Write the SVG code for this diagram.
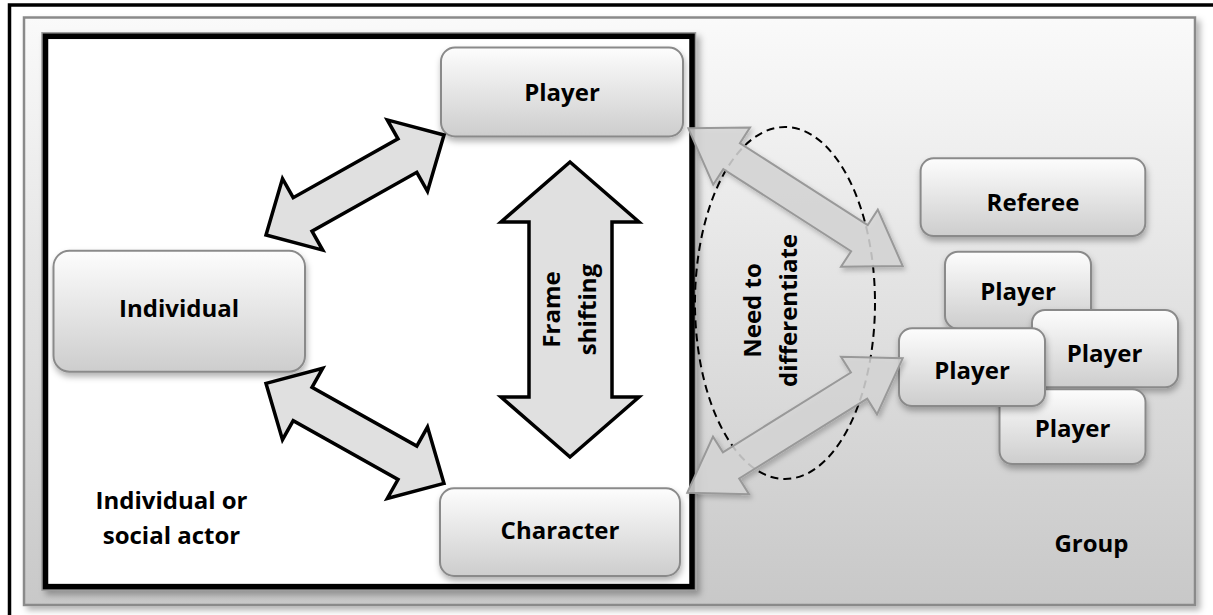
<svg xmlns="http://www.w3.org/2000/svg" width="1213" height="615" viewBox="0 0 1213 615">
<defs>
  <linearGradient id="gGroup" x1="0" y1="0" x2="0" y2="1">
    <stop offset="0" stop-color="#fafafa"/>
    <stop offset="1" stop-color="#c8c8c8"/>
  </linearGradient>
  <linearGradient id="gNode" x1="0" y1="0" x2="0" y2="1">
    <stop offset="0" stop-color="#fdfdfd"/>
    <stop offset="1" stop-color="#cdcdcd"/>
  </linearGradient>
  <filter id="shBig" x="-5%" y="-5%" width="110%" height="110%">
    <feDropShadow dx="4" dy="4" stdDeviation="3" flood-color="#000" flood-opacity="0.3"/>
  </filter>
  <filter id="shNode" x="-10%" y="-10%" width="125%" height="135%">
    <feDropShadow dx="1" dy="4" stdDeviation="3" flood-color="#000" flood-opacity="0.3"/>
  </filter>
  <filter id="shArrow" x="-10%" y="-10%" width="125%" height="130%">
    <feDropShadow dx="2" dy="3" stdDeviation="2.5" flood-color="#000" flood-opacity="0.25"/>
  </filter>
</defs>
<style>
  .node { fill: url(#gNode); stroke: #8a8a8a; stroke-width: 2; filter: url(#shNode); }
  .lbl { font-family: "Open Sans", "Liberation Sans", sans-serif; font-weight: 700; font-size: 24px; fill: #000; text-anchor: middle; }
  .barrow { fill: #e0e0e0; stroke: #000; stroke-width: 3.5; stroke-linejoin: miter; }
  .garrow { fill: #d6d6d6; fill-opacity: 0.85; stroke: #999; stroke-width: 2; stroke-linejoin: miter; filter: url(#shArrow); }
</style>

<rect id="outer-frame" x="9.5" y="5" width="1215" height="620" fill="#fff" stroke="#000" stroke-width="3.5"/>

<g id="group-area">
  <rect x="24" y="17.5" width="1171" height="587.5" fill="url(#gGroup)" stroke="#8a8a8a" stroke-width="2.5" filter="url(#shBig)"/>
  <text class="lbl" x="1091.5" y="551.7">Group</text>
</g>

<g id="individual-area">
  <rect x="45.5" y="36.3" width="646.5" height="550.3" fill="none" stroke="#999" stroke-width="8.5" filter="url(#shBig)"/>
  <rect x="45.5" y="36.3" width="646.5" height="550.3" fill="#fff" stroke="#000" stroke-width="5.5"/>
  <text class="lbl" x="171.5" y="509.3">Individual or</text>
  <text class="lbl" x="171.5" y="544">social actor</text>
</g>

<g id="node-player">
  <rect class="node" x="441" y="47.5" width="242" height="89" rx="14"/>
  <text class="lbl" x="562" y="101">Player</text>
</g>
<g id="node-individual">
  <rect class="node" x="53.5" y="250.7" width="251.5" height="121" rx="16"/>
  <text class="lbl" x="179" y="316.7">Individual</text>
</g>
<g id="node-character">
  <rect class="node" x="440" y="488.3" width="240" height="87.7" rx="14"/>
  <text class="lbl" x="560" y="539.3">Character</text>
</g>

<g id="node-referee">
  <rect class="node" x="920.6" y="158.3" width="224.7" height="77.7" rx="13"/>
  <text class="lbl" x="1033" y="210.7">Referee</text>
</g>
<g id="node-player-back">
  <rect class="node" x="945" y="251.7" width="146" height="77" rx="13"/>
  <text class="lbl" x="1018" y="300">Player</text>
</g>
<g id="node-player-right">
  <rect class="node" x="1032" y="310" width="146" height="77.3" rx="13"/>
  <text class="lbl" x="1104.5" y="361.7">Player</text>
</g>
<g id="node-player-bottom">
  <rect class="node" x="999.5" y="389.3" width="146" height="74.7" rx="13"/>
  <text class="lbl" x="1072.5" y="436.7">Player</text>
</g>
<g id="node-player-front">
  <rect class="node" x="899" y="328.3" width="146" height="77.7" rx="13"/>
  <text class="lbl" x="972" y="379.3">Player</text>
</g>

<g id="connectors">
  <polygon class="barrow" points="444,135 387.3,119.9 398,138.9 293.2,197.7 282.5,178.7 266,235 322.7,250.1 312,231.1 416.8,172.3 427.5,191.3"/>
  <polygon class="barrow" points="444,483.4 387.3,498.5 398,479.5 293.2,420.7 282.5,439.7 266,383.4 322.7,368.3 312,387.3 416.8,446.1 427.5,427.1"/>
  <g id="frame-shifting">
    <polygon class="barrow" points="570,162 639,222 612,222 612,397 639,397 570,457 501,397 529,397 529,222 501,222"/>
    <text class="lbl" transform="translate(560,309.5) rotate(-90)">Frame</text>
    <text class="lbl" transform="translate(596,309.5) rotate(-90)">shifting</text>
  </g>
  <ellipse cx="785" cy="303" rx="90" ry="176" fill="none" stroke="#000" stroke-width="2" stroke-dasharray="8 5"/>
  <polygon class="garrow" points="688.3,128.3 750,127.5 739.9,143.1 867.7,225.2 877.8,209.6 902.7,266 841,266.8 851.1,251.2 723.3,169.1 713.2,184.7"/>
  <polygon class="garrow" points="687.3,492.7 713,436.6 722.9,452.3 850.9,372.5 841,356.8 902.7,358.3 877,414.4 867.2,398.7 739.2,478.5 749,494.2"/>
  <text class="lbl" transform="translate(761,310.5) rotate(-90)">Need to</text>
  <text class="lbl" transform="translate(797,310.5) rotate(-90)">differentiate</text>
</g>
</svg>
